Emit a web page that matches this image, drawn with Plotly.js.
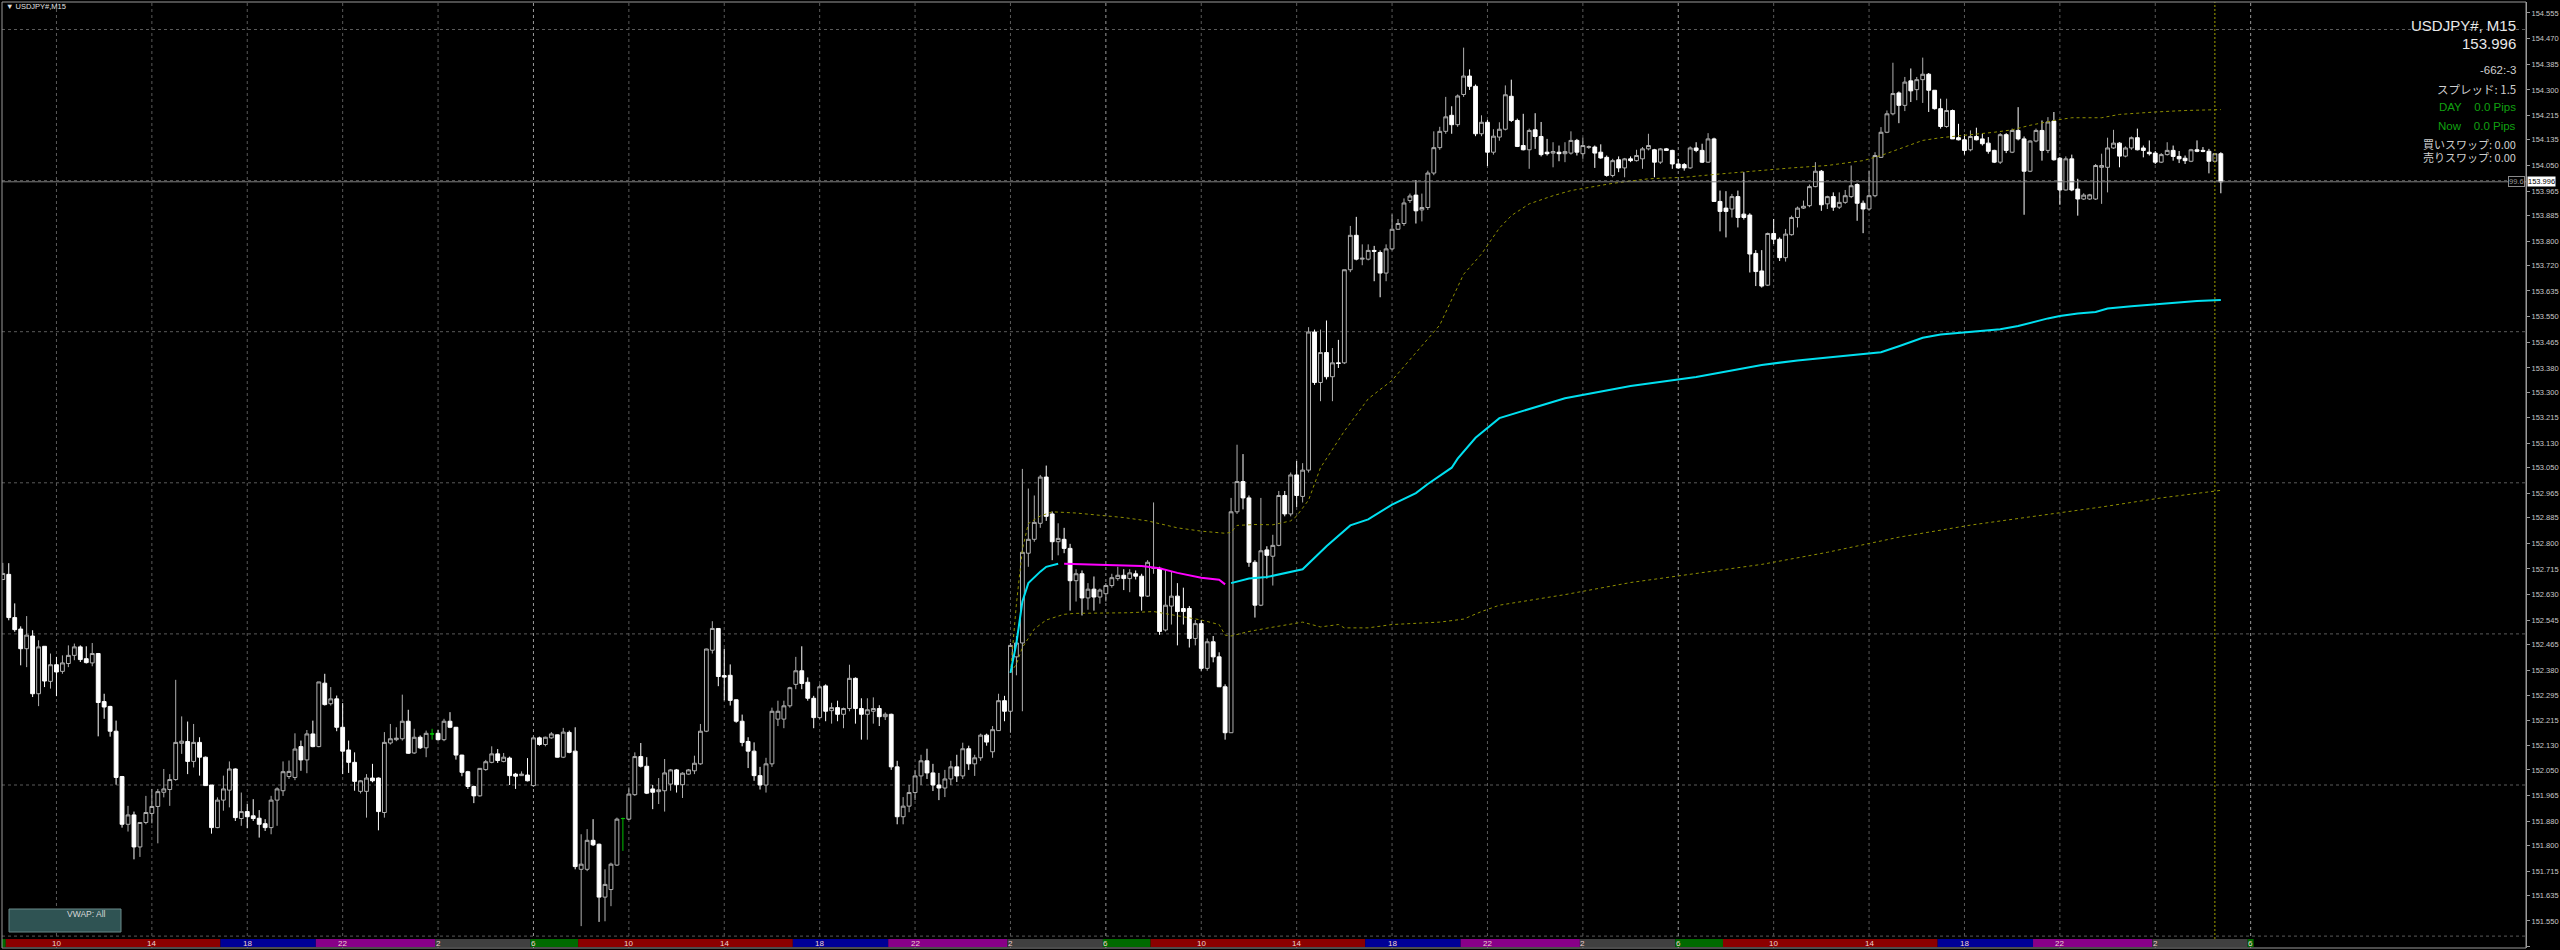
<!DOCTYPE html>
<html><head><meta charset="utf-8">
<script src="https://cdn.plot.ly/plotly-3.0.1.min.js"></script>
<style>html,body{margin:0;padding:0;background:#000;overflow:hidden}#chart{width:2560px;height:950px}</style>
</head><body><div id="chart"></div>
<script>
// ---- OHLC data, USDJPY#, M15, bar 0 = 07:45 ----
const openP=[
152.680,152.697,152.554,152.516,152.451,152.493,152.302,152.459,152.343,152.398,
152.376,152.402,152.429,152.457,152.418,152.404,152.435,152.276,152.260,152.178,
152.028,151.870,151.901,151.795,151.876,151.906,151.929,151.976,151.985,152.018,
152.138,152.144,152.078,152.141,152.092,152.000,151.859,151.950,151.983,152.053,
151.889,151.912,151.898,151.890,151.872,151.859,151.950,151.981,152.028,152.025,
152.127,152.083,152.169,152.127,152.337,152.269,152.285,152.191,152.116,152.075,
151.979,151.979,152.023,152.023,151.909,152.139,152.150,152.153,152.211,152.106,
152.158,152.123,152.169,152.171,152.150,152.211,152.191,152.099,152.044,151.995,
151.964,152.051,152.075,152.103,152.078,152.089,152.036,152.031,152.033,151.998,
152.156,152.134,152.156,152.166,152.092,152.174,152.112,151.721,151.721,151.817,
151.804,151.629,151.654,151.735,151.889,151.887,151.968,152.094,152.062,151.987,
151.978,151.981,152.003,152.050,152.001,152.036,152.047,152.070,152.178,152.446,
152.518,152.362,152.363,152.282,152.211,152.144,152.112,152.031,152.000,152.070,
152.218,152.218,152.262,152.333,152.378,152.340,152.287,152.223,152.328,152.246,
152.256,152.234,152.253,152.353,152.253,152.234,152.244,152.253,152.226,152.234,
152.060,151.895,151.930,151.975,152.030,152.080,152.040,152.000,151.990,152.020,
152.060,152.030,152.120,152.070,152.090,152.165,152.110,152.180,152.279,152.244,
152.424,152.470,152.767,152.813,152.866,153.019,152.897,152.805,152.813,152.783,
152.676,152.699,152.619,152.648,152.622,152.633,152.660,152.683,152.694,152.683,
152.699,152.691,152.625,152.717,152.717,152.513,152.592,152.625,152.584,152.584,
152.485,152.534,152.386,152.474,152.424,152.325,152.173,152.904,153.004,152.950,
152.737,152.595,152.778,152.757,152.793,152.958,152.897,153.026,152.955,153.042,
153.499,153.332,153.431,153.351,153.397,153.397,153.705,153.819,153.740,153.740,
153.769,153.762,153.694,153.774,153.839,153.858,153.934,153.952,153.903,153.911,
154.025,154.109,154.163,154.216,154.185,154.285,154.346,154.312,154.155,154.193,
154.094,154.144,154.170,154.279,154.199,154.116,154.102,154.168,154.146,154.094,
154.091,154.094,154.089,154.091,154.133,154.089,154.110,154.111,154.094,154.077,
154.017,154.069,154.042,154.072,154.066,154.072,154.105,154.102,154.061,154.105,
154.100,154.055,154.053,154.042,154.108,154.100,154.061,154.138,153.931,153.909,
153.906,153.947,153.889,153.886,153.759,153.701,153.654,153.825,153.806,153.745,
153.821,153.878,153.909,153.917,153.980,154.031,153.923,153.947,153.912,153.928,
153.947,153.987,153.925,153.906,153.950,154.077,154.160,154.221,154.290,154.249,
154.330,154.301,154.334,154.352,154.299,154.238,154.179,154.232,154.142,154.135,
154.102,154.146,154.138,154.124,154.100,154.061,154.152,154.094,154.166,154.138,
154.031,154.131,154.166,154.100,154.197,154.074,153.969,154.072,153.972,153.939,
153.939,153.939,154.044,154.044,154.108,154.124,154.081,154.108,154.142,154.108,
154.094,154.091,154.061,154.086,154.100,154.080,154.074,154.064,154.102,154.100,
154.097,154.064,154.089];
const highP=[
152.735,152.734,152.601,152.525,152.559,152.512,152.479,152.459,152.435,152.424,
152.429,152.462,152.468,152.462,152.459,152.470,152.437,152.302,152.262,152.213,
152.030,151.931,151.912,151.876,151.964,151.987,151.987,152.053,152.036,152.348,
152.227,152.210,152.202,152.158,152.094,152.000,151.959,152.031,152.078,152.055,
151.975,151.937,151.953,151.917,151.887,151.964,151.992,152.078,152.081,152.171,
152.147,152.182,152.213,152.341,152.368,152.324,152.296,152.271,152.147,152.108,
152.016,152.036,152.070,152.025,152.175,152.202,152.191,152.299,152.249,152.186,
152.164,152.180,152.186,152.182,152.219,152.241,152.192,152.100,152.047,151.998,
152.056,152.083,152.128,152.119,152.106,152.094,152.040,152.045,152.089,152.161,
152.160,152.160,152.175,152.167,152.189,152.180,152.191,151.837,151.854,151.887,
151.806,151.721,151.743,151.892,151.892,151.992,152.108,152.139,152.092,152.000,
152.023,152.086,152.053,152.053,152.042,152.053,152.097,152.202,152.451,152.542,
152.519,152.451,152.399,152.283,152.233,152.158,152.141,152.060,152.090,152.256,
152.279,152.279,152.325,152.424,152.459,152.356,152.295,152.333,152.333,152.272,
152.279,152.256,152.398,152.356,152.287,152.287,152.290,152.264,152.240,152.236,
152.080,151.960,152.000,152.050,152.100,152.120,152.070,152.040,152.050,152.080,
152.100,152.140,152.130,152.100,152.170,152.170,152.195,152.302,152.295,152.470,
152.493,153.046,152.981,152.958,153.026,153.057,152.905,152.866,152.851,152.798,
152.714,152.710,152.668,152.690,152.650,152.668,152.699,152.722,152.714,152.714,
152.710,152.699,152.744,152.935,152.722,152.714,152.706,152.668,152.653,152.592,
152.546,152.546,152.485,152.493,152.439,152.333,152.950,153.126,153.095,152.958,
152.744,152.950,152.790,152.828,152.973,152.973,153.034,153.072,153.065,153.515,
153.507,153.507,153.537,153.446,153.473,153.705,153.850,153.880,153.789,153.789,
153.784,153.769,153.789,153.888,153.873,153.941,153.957,154.002,153.957,154.033,
154.163,154.178,154.277,154.246,154.285,154.440,154.368,154.318,154.216,154.201,
154.170,154.193,154.315,154.334,154.205,154.221,154.172,154.223,154.194,154.138,
154.127,154.116,154.127,154.163,154.138,154.142,154.116,154.116,154.120,154.083,
154.072,154.080,154.075,154.080,154.102,154.111,154.155,154.105,154.108,154.108,
154.102,154.072,154.058,154.113,154.127,154.122,154.157,154.142,153.967,153.965,
153.956,153.967,154.028,153.892,153.770,153.770,153.828,153.873,153.812,153.840,
153.884,153.914,153.934,153.987,154.061,154.035,153.950,153.961,153.961,153.969,
154.050,153.991,153.934,154.033,154.094,154.177,154.232,154.390,154.295,154.343,
154.371,154.343,154.407,154.356,154.299,154.271,154.271,154.235,154.188,154.153,
154.166,154.175,154.155,154.144,154.102,154.157,154.157,154.172,154.243,154.146,
154.133,154.172,154.199,154.210,154.227,154.078,154.080,154.086,154.006,153.958,
153.956,154.055,154.089,154.142,154.168,154.127,154.113,154.146,154.172,154.116,
154.133,154.098,154.091,154.127,154.116,154.098,154.083,154.105,154.133,154.111,
154.105,154.091,154.094];
const lowP=[
152.678,152.545,152.507,152.396,152.390,152.291,152.261,152.324,152.319,152.294,
152.368,152.390,152.413,152.407,152.402,152.393,152.161,152.219,152.160,152.001,
151.859,151.846,151.754,151.762,151.870,151.873,151.807,151.959,151.931,152.014,
152.103,152.036,152.058,152.031,151.997,151.839,151.857,151.915,151.926,151.881,
151.865,151.857,151.881,151.826,151.848,151.837,151.865,151.964,152.020,152.016,
152.047,152.039,152.125,152.125,152.263,152.263,152.178,152.036,152.040,151.981,
151.972,151.892,152.009,151.850,151.892,152.134,152.145,152.147,152.103,152.103,
152.119,152.092,152.150,152.147,152.145,152.188,152.084,152.029,151.987,151.940,
151.962,152.047,152.072,152.073,152.075,152.000,151.987,152.030,152.012,151.994,
152.130,152.128,152.153,152.091,152.089,152.105,151.721,151.533,151.715,151.798,
151.547,151.549,151.599,151.732,151.782,151.884,151.964,152.058,151.970,151.920,
151.937,151.912,151.981,151.975,151.957,152.034,152.036,152.067,152.175,152.435,
152.327,152.280,152.263,152.206,152.128,152.056,152.014,151.985,151.975,152.060,
152.195,152.188,152.256,152.317,152.317,152.279,152.188,152.218,152.211,152.203,
152.211,152.188,152.244,152.203,152.150,152.150,152.203,152.195,152.215,152.050,
151.870,151.870,151.910,151.950,152.000,152.020,151.980,151.950,151.960,152.000,
152.010,152.020,152.050,152.030,152.080,152.130,152.090,152.180,152.211,152.173,
152.363,152.244,152.722,152.805,152.851,152.874,152.744,152.760,152.767,152.577,
152.607,152.561,152.580,152.577,152.600,152.607,152.653,152.676,152.645,152.638,
152.680,152.577,152.622,152.699,152.497,152.508,152.531,152.462,152.531,152.455,
152.462,152.378,152.378,152.406,152.325,152.150,152.173,152.897,152.912,152.722,
152.554,152.592,152.683,152.660,152.790,152.889,152.889,152.920,152.935,153.034,
153.324,153.270,153.342,153.270,153.380,153.393,153.697,153.736,153.720,153.736,
153.667,153.614,153.667,153.769,153.837,153.850,153.926,153.858,153.865,153.903,
154.018,154.102,154.155,154.155,154.178,154.277,154.300,154.147,154.147,154.048,
154.086,154.132,154.166,154.194,154.111,154.100,154.039,154.105,154.080,154.083,
154.044,154.064,154.061,154.086,154.083,154.072,154.105,154.042,154.072,154.013,
154.011,154.028,154.011,154.061,154.063,154.039,154.100,154.011,154.055,154.098,
154.039,154.039,154.033,154.039,154.094,154.058,154.059,153.931,153.832,153.812,
153.878,153.845,153.871,153.696,153.651,153.646,153.651,153.790,153.734,153.732,
153.818,153.845,153.906,153.912,153.978,153.900,153.906,153.900,153.906,153.923,
153.942,153.867,153.826,153.900,153.945,154.075,154.157,154.216,154.190,154.230,
154.260,154.266,154.257,154.227,154.235,154.172,154.175,154.138,154.133,154.086,
154.097,154.133,154.116,154.089,154.058,154.055,154.091,154.091,154.133,153.887,
154.028,154.127,154.066,154.091,154.066,153.920,153.967,153.965,153.884,153.936,
153.936,153.936,153.923,153.961,154.105,154.044,154.077,154.102,154.100,154.077,
154.083,154.055,154.058,154.083,154.066,154.058,154.055,154.061,154.094,154.094,
154.024,154.061,153.958];
const closeP=[
152.700,152.554,152.514,152.451,152.496,152.302,152.457,152.344,152.398,152.374,
152.404,152.429,152.457,152.415,152.405,152.435,152.273,152.258,152.178,152.025,
151.870,151.901,151.795,151.876,151.909,151.929,151.978,151.987,152.018,152.141,
152.145,152.078,152.141,152.092,151.998,151.859,151.950,151.987,152.053,151.892,
151.912,151.895,151.889,151.870,151.859,151.950,151.987,152.044,152.045,152.119,
152.083,152.169,152.127,152.341,152.266,152.285,152.191,152.112,152.075,152.012,
152.014,152.023,152.014,151.912,152.141,152.153,152.155,152.211,152.105,152.158,
152.123,152.171,152.169,152.150,152.211,152.191,152.099,152.042,151.995,151.964,
152.055,152.077,152.103,152.081,152.092,152.031,152.029,152.036,152.014,152.156,
152.134,152.158,152.169,152.092,152.175,152.108,151.730,151.738,151.817,151.802,
151.629,151.671,151.738,151.887,151.889,151.970,152.094,152.062,151.973,151.976,
151.984,152.040,152.050,152.001,152.039,152.050,152.072,152.178,152.450,152.518,
152.359,152.357,152.280,152.211,152.141,152.112,152.031,152.000,152.070,152.244,
152.244,152.262,152.322,152.378,152.336,152.287,152.223,152.325,152.244,152.256,
152.234,152.253,152.353,152.253,152.234,152.249,152.253,152.226,152.234,152.060,
151.895,151.930,151.975,152.030,152.080,152.040,152.000,151.990,152.020,152.060,
152.030,152.120,152.070,152.090,152.165,152.142,152.183,152.279,152.244,152.462,
152.470,152.770,152.813,152.869,153.019,152.889,152.805,152.816,152.783,152.676,
152.699,152.619,152.648,152.622,152.645,152.660,152.686,152.694,152.683,152.702,
152.691,152.625,152.737,152.719,152.508,152.595,152.625,152.574,152.574,152.485,
152.534,152.386,152.474,152.424,152.325,152.173,152.904,153.004,152.950,152.737,
152.595,152.775,152.760,152.793,152.958,152.897,153.026,152.958,153.042,153.499,
153.332,153.431,153.351,153.397,153.395,153.705,153.819,153.740,153.743,153.769,
153.766,153.694,153.774,153.839,153.858,153.926,153.949,153.900,153.911,154.025,
154.109,154.163,154.211,154.185,154.280,154.346,154.312,154.155,154.193,154.094,
154.147,154.170,154.284,154.199,154.113,154.102,154.166,154.146,154.086,154.089,
154.096,154.089,154.096,154.133,154.094,154.116,154.112,154.091,154.075,154.017,
154.066,154.042,154.072,154.066,154.083,154.105,154.116,154.061,154.105,154.100,
154.055,154.042,154.042,154.108,154.100,154.061,154.138,153.931,153.898,153.898,
153.947,153.878,153.878,153.757,153.699,153.651,153.825,153.806,153.745,153.823,
153.878,153.909,153.915,153.980,154.031,153.920,153.947,153.912,153.928,153.950,
153.983,153.925,153.906,153.950,154.083,154.160,154.221,154.288,154.249,154.326,
154.297,154.334,154.352,154.299,154.238,154.179,154.232,154.138,154.135,154.100,
154.146,154.135,154.122,154.097,154.061,154.152,154.100,154.166,154.138,154.031,
154.131,154.166,154.100,154.194,154.069,153.969,154.072,153.969,153.939,153.952,
153.953,154.050,154.050,154.108,154.124,154.081,154.108,154.142,154.102,154.100,
154.089,154.061,154.086,154.100,154.080,154.072,154.066,154.102,154.097,154.097,
154.064,154.089,153.996];

// ---- VWAP (anchored at 02:00) and bands ----
const vwapUpBarsA=[169,170,171,172,174,175,177];
const vwapUpValsA=[152.371,152.470,152.607,152.668,152.706,152.722,152.732];
const vwapDownBars=[178,185,191,194,197,201,204,205];
const vwapDownVals=[152.732,152.729,152.725,152.717,152.702,152.686,152.679,152.664];
const vwapUpBarsB=[206,209,212,214,218,222,226,229,233,237,239,243,244,247,251,262,273,284,295,301,304,309,312,315,318,322,325,329,335,338,340,343,345,348,351,353,357,361,365,368,372];
const vwapUpValsB=[152.668,152.683,152.688,152.696,152.714,152.790,152.859,152.879,152.928,152.966,152.996,153.050,153.080,153.149,153.214,153.280,153.320,153.350,153.390,153.405,153.411,153.419,153.425,153.432,153.452,153.480,153.491,153.497,153.508,153.519,153.530,153.544,153.552,153.560,153.565,153.577,153.584,153.591,153.596,153.602,153.605];
const upperBars=[169,170,171,172,174,176,180,184,188,192,197,201,205,206,207,210,213,216,217,219,221,225,229,233,237,241,245,248,251,253,256,260,263,270,276,282,288,294,300,306,312,315,318,322,325,329,334,337,340,344,347,352,355,361,366,372];
const upperVals=[152.371,152.600,152.780,152.865,152.890,152.904,152.900,152.893,152.885,152.874,152.851,152.840,152.833,152.836,152.859,152.862,152.861,152.874,152.890,152.943,153.050,153.171,153.278,153.339,153.431,153.522,153.690,153.757,153.843,153.884,153.923,153.950,153.967,153.991,154.006,154.011,154.022,154.033,154.042,154.050,154.066,154.083,154.105,154.133,154.142,154.149,154.160,154.168,154.183,154.199,154.208,154.208,154.219,154.227,154.232,154.235];
const lowerBars=[169,170,171,173,175,178,180,189,193,197,201,204,205,206,209,212,216,218,221,224,225,229,233,237,241,245,248,251,262,273,284,295,306,318,330,341,352,362,372];
const lowerVals=[152.371,152.400,152.455,152.516,152.546,152.565,152.568,152.570,152.574,152.561,152.546,152.531,152.496,152.493,152.508,152.519,152.531,152.539,152.523,152.531,152.520,152.520,152.531,152.535,152.539,152.549,152.574,152.595,152.630,152.670,152.700,152.730,152.770,152.820,152.860,152.890,152.920,152.950,152.975];

// ---- axes / sessions ----
const priceTicks=[154.555,154.470,154.385,154.300,154.215,154.135,154.050,153.965,153.885,153.800,153.720,153.635,153.550,153.465,153.380,153.300,153.215,153.130,153.050,152.965,152.885,152.800,152.715,152.630,152.545,152.465,152.380,152.295,152.215,152.130,152.050,151.965,151.880,151.800,151.715,151.635,151.550,151.465];
const gridLevels=[151.5,152.0,152.5,153.0,153.5,154.0,154.5];
const timeLabels=['10','14','18','22','2','6','10','14','18','22','2','6','10','14','18','22','2','6','10','14','18','22','2','6'];
const timeLabelBars=[9,25,41,57,73,89,105,121,137,153,169,185,201,217,233,249,265,281,297,313,329,345,361,377];
const sessionStarts=[0,1,37,53,73,89,97,133,149,169,185,193,229,245,265,281,289,325,341,361,377,378];
const sessionKinds=['g','r','b','p','k','g','r','b','p','k','g','r','b','p','k','g','r','b','p','k','g'];
const lastPrice=153.996;
const markerBar=371;

const sessionColor={g:'#006a00',r:'#8b0000',b:'#000096',p:'#880088',k:'#404040'};
const L0=2,R0=2526,T0=2,B0=948;
const px=x=>(x-L0)/(R0-L0), py=y=>(B0-y)/(B0-T0);

const bull=[],bear=[],doji=[];
for(let i=0;i<openP.length;i++){ if(closeP[i]>openP[i]) bull.push(i); else if(closeP[i]<openP[i]) bear.push(i); else doji.push(i); }
function ctrace(idx,lc,fc){
  return {type:'candlestick',x:idx,open:idx.map(i=>openP[i]),high:idx.map(i=>highP[i]),low:idx.map(i=>lowP[i]),close:idx.map(i=>closeP[i]),
    increasing:{line:{color:lc,width:1},fillcolor:fc},decreasing:{line:{color:lc,width:1},fillcolor:fc},whiskerwidth:0,hoverinfo:'skip',showlegend:false};
}
const traces=[
 {type:'scatter',mode:'lines',x:upperBars,y:upperVals,line:{color:'#8f8f00',width:1,dash:'dot'},hoverinfo:'skip'},
 {type:'scatter',mode:'lines',x:lowerBars,y:lowerVals,line:{color:'#8f8f00',width:1,dash:'dot'},hoverinfo:'skip'},
 ctrace(bull,'#b0b0b0','#000000'),
 ctrace(bear,'#ffffff','#ffffff'),
 ctrace(doji,'#00c000','#00c000'),
 {type:'scatter',mode:'lines',x:vwapUpBarsA,y:vwapUpValsA,line:{color:'#00e0f0',width:2},hoverinfo:'skip'},
 {type:'scatter',mode:'lines',x:vwapDownBars,y:vwapDownVals,line:{color:'#ff00ff',width:2},hoverinfo:'skip'},
 {type:'scatter',mode:'lines',x:vwapUpBarsB,y:vwapUpValsB,line:{color:'#00e0f0',width:2},hoverinfo:'skip'}
];

const barPx=5.9625, bar0Px=2.8;
const xr=[(L0-bar0Px)/barPx,(R0-bar0Px)/barPx];
const shapes=[];
gridLevels.forEach(v=>shapes.push({type:'line',layer:'below',xref:'paper',x0:0,x1:1,yref:'y',y0:v,y1:v,line:{color:'#5a5a5a',width:1,dash:'3px,3px'}}));
timeLabelBars.forEach((b,k)=>shapes.push({type:'line',layer:'below',xref:'x',x0:b,x1:b,yref:'paper',y0:0,y1:1,line:{color:timeLabels[k]==='6'?'#9a9a9a':'#5a5a5a',width:1,dash:'3px,3px'}}));
for(let k=0;k<sessionKinds.length;k++){
  shapes.push({type:'rect',layer:'above',xref:'x',x0:sessionStarts[k]-0.5,x1:sessionStarts[k+1]-0.5,yref:'paper',y0:py(947),y1:py(939),fillcolor:sessionColor[sessionKinds[k]],line:{width:0}});
}
shapes.push({type:'line',layer:'above',xref:'x',x0:markerBar,x1:markerBar,yref:'paper',y0:py(939),y1:1,line:{color:'#a0a000',width:1,dash:'2px,2px'}});
shapes.push({type:'line',layer:'above',xref:'paper',x0:0,x1:1,yref:'y',y0:lastPrice,y1:lastPrice,line:{color:'#808080',width:1}});
shapes.push({type:'rect',layer:'above',xref:'paper',yref:'paper',x0:0,x1:1,y0:0,y1:1,line:{color:'#9a9a9a',width:1}});
shapes.push({type:'rect',layer:'above',xref:'paper',yref:'paper',x0:px(9),x1:px(121),y0:py(932),y1:py(909),fillcolor:'#2f5353',line:{color:'#6a8a8a',width:1}});

const annotations=[];
const FONT='Liberation Sans, Arial, sans-serif', JFONT='Noto Sans CJK JP, Liberation Sans, sans-serif';
timeLabelBars.forEach((b,k)=>annotations.push({xref:'x',x:b,yref:'paper',y:py(943),text:timeLabels[k],showarrow:false,font:{family:FONT,size:8,color:'#f0d0d0'},xanchor:'center',yanchor:'middle'}));
annotations.push({xref:'paper',yref:'paper',x:px(65),y:py(920.5),text:'VWAP: All',showarrow:false,font:{family:FONT,size:8.5,color:'#d8d8d8'}});
annotations.push({xref:'paper',yref:'paper',x:px(4),y:py(7),text:'▼ USDJPY#,M15',showarrow:false,xanchor:'left',yanchor:'middle',font:{family:FONT,size:7.5,color:'#e0e0e0'}});
const info=[
 ['USDJPY#, M15',25,15,'#e8e8e8',FONT],
 ['153.996',44,15,'#e8e8e8',FONT],
 ['-662:-3',70,11.5,'#cfcfcf',FONT],
 ['スプレッド: 1.5',89,11.5,'#cfcfcf',JFONT],
 ['DAY    0.0 Pips',107,11.5,'#10a010',FONT],
 ['Now    0.0 Pips',126,11.5,'#10a010',FONT],
 ['買いスワップ: 0.00',144,11,'#cfcfcf',JFONT],
 ['売りスワップ: 0.00',157,11,'#cfcfcf',JFONT]
];
info.forEach(r=>annotations.push({xref:'paper',yref:'paper',x:px(2518),y:py(r[1]),text:r[0],showarrow:false,xanchor:'right',yanchor:'middle',font:{family:r[4],size:r[2],color:r[3]}}));
annotations.push({xref:'paper',yref:'y',x:px(2527),y:lastPrice,text:'153.996',showarrow:false,xanchor:'left',yanchor:'middle',bgcolor:'#ffffff',font:{family:FONT,size:7.5,color:'#000000'},borderpad:0});
annotations.push({xref:'paper',yref:'y',x:px(2525),y:lastPrice,text:'99.6',showarrow:false,xanchor:'right',yanchor:'middle',bgcolor:'#000000',bordercolor:'#8a8a8a',borderwidth:1,borderpad:0,font:{family:FONT,size:7.5,color:'#9a9a9a'}});

const layout={
  width:2560,height:950,paper_bgcolor:'#000000',plot_bgcolor:'#000000',
  margin:{l:L0,r:2560-R0,t:T0,b:950-B0,pad:0},showlegend:false,dragmode:false,hovermode:false,
  boxgap:0.36,boxgroupgap:0,
  xaxis:{range:xr,showgrid:false,zeroline:false,showticklabels:false,ticks:'',showline:false,rangeslider:{visible:false},fixedrange:true},
  yaxis:{range:[154.5-(B0-29.5)/302.2,154.5+(29.5-T0)/302.2],side:'right',showgrid:false,zeroline:false,showline:true,linecolor:'#9a9a9a',linewidth:1,
    tickmode:'array',tickvals:priceTicks,ticktext:priceTicks.map(v=>v.toFixed(3)),ticks:'outside',ticklen:3,tickcolor:'#9a9a9a',
    tickfont:{family:FONT,size:7.5,color:'#c8c8c8'},automargin:false,fixedrange:true},
  shapes:shapes,annotations:annotations
};
Plotly.newPlot('chart',traces,layout,{staticPlot:true,displayModeBar:false});
</script></body></html>
